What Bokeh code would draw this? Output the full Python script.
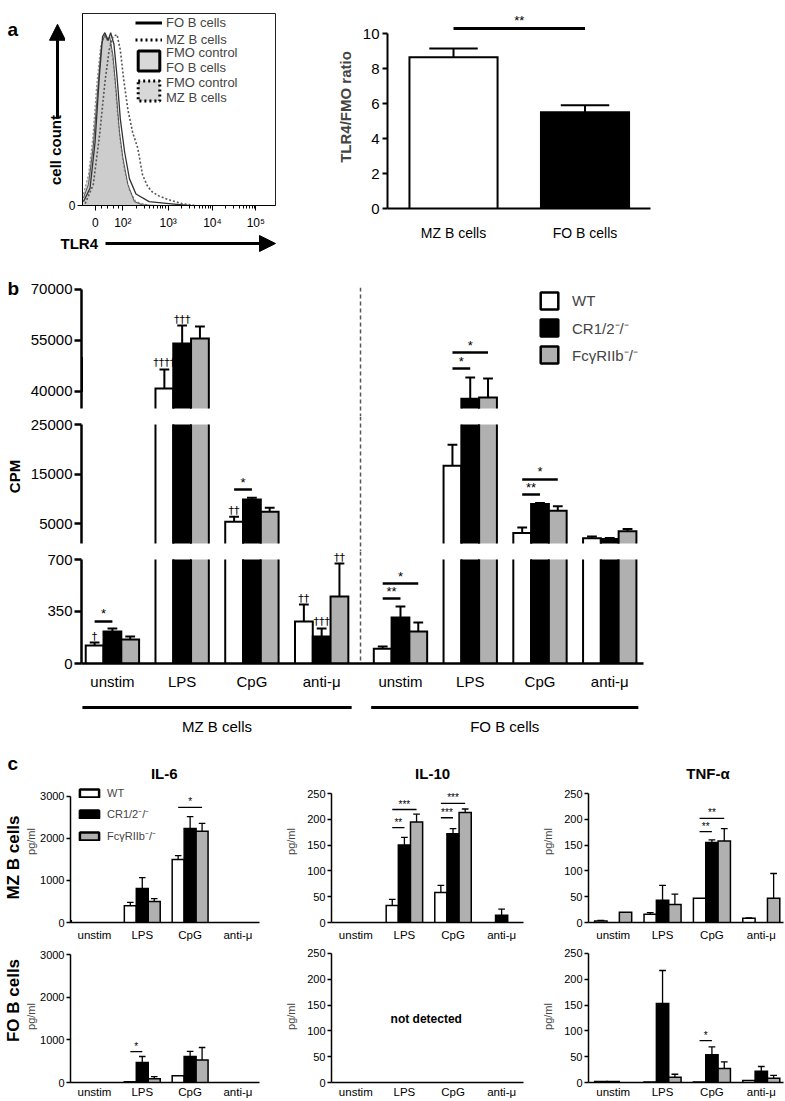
import numpy as np
from bokeh.plotting import figure
from bokeh.layouts import column, row
from bokeh.models import (Range1d, FixedTicker, Legend, LegendItem, Span,
                          Arrow, NormalHead)
from bokeh.embed import file_html
from bokeh.resources import INLINE
from bokeh.core.properties import value

FONT = "Liberation Sans"

# ======================= DATA =======================
# --- panel a, histogram (x: display channel 0-1000 across the plot, y: % of max)
hist_tick_pos = [66, 209, 444, 673, 898]
hist_tick_lab = ["0", "10²", "10³", "10⁴", "10⁵"]
fmo_fo_x = [5, 31, 56, 82, 99, 116, 128, 141, 158, 175, 192, 209, 235, 269, 311, 396]
fmo_fo_y = [4, 11, 31, 64, 84, 89, 86, 88, 78, 59, 38, 25, 11, 2, 0.3, 0]
fmo_mz_x = [5, 31, 53, 73, 94, 111, 128, 145, 162, 179, 196, 218, 243, 277, 345]
fmo_mz_y = [6, 16, 35, 62, 83, 88, 87, 84, 72, 50, 33, 18, 8, 2, 0]
fo_x = [5, 39, 65, 87, 104, 116, 133, 146, 163, 179, 196, 218, 243, 277, 345, 447, 549]
fo_y = [2, 9, 33, 67, 88, 90, 86, 90, 84, 67, 45, 28, 14, 6, 2, 1, 0]
mz_x = [14, 56, 90, 116, 138, 158, 179, 196, 213, 235, 260, 286, 311, 337, 362, 396, 447, 515, 583]
mz_y = [1, 11, 38, 64, 81, 88, 89, 81, 66, 50, 38, 30, 16, 10, 7, 5, 3, 1, 0]

# --- panel a, TLR4/FMO ratio
ratio_cells = ["MZ B cells", "FO B cells"]
ratio_x = [1, 2]
ratio_mean = [8.65, 5.5]
ratio_err = [0.5, 0.4]
ratio_colors = ["white", "black"]
ratio_sig_y = 10.29
ratio_sig_text = "**"

# --- panel b, proliferation (CPM)
b_stims = ["unstim", "LPS", "CpG", "anti-μ", "unstim", "LPS", "CpG", "anti-μ"]
b_group_x = [0, 1, 2, 3, 4.13, 5.13, 6.13, 7.13]
b_series = ["WT", "CR1/2⁻/⁻", "FcγRIIb⁻/⁻"]
b_colors = ["white", "black", "#b0b0b0"]
b_wt = [121, 40900, 5400, 283, 100, 16700, 3120, 2035]
b_wt_err = [20, 5600, 1000, 114, 15, 4230, 1130, 400]
b_cr = [215, 54100, 9850, 182, 310, 37900, 8970, 1900]
b_cr_err = [21, 5300, 400, 54, 73, 6200, 200, 200]
b_fc = [161, 55600, 7400, 451, 215, 38200, 7620, 3450]
b_fc_err = [21, 3500, 800, 222, 61, 5600, 870, 480]
b_dag_group = [0, 1, 1, 2, 3, 3, 3]
b_dag_series = [0, 0, 1, 0, 0, 1, 2]
b_dag_text = ["†", "††††", "†††", "††", "††", "†††", "††"]
b_sig_group = [0, 2, 4, 4, 5, 5, 6, 6]
b_sig_to = [1, 1, 1, 2, 1, 2, 1, 2]
b_sig_y = [283, 11890, 437, 538, 46760, 51470, 10880, 13910]
b_sig_text = ["*", "*", "**", "*", "*", "*", "**", "*"]
b_cells = ["MZ B cells", "FO B cells"]
b_cell_x0 = [-0.43, 3.71]
b_cell_x1 = [3.43, 7.54]
b_divider_x = 3.557

# --- panel c, cytokines (pg/ml)
c_stims = ["unstim", "LPS", "CpG", "anti-μ"]
c_titles = ["IL-6", "IL-10", "TNF-α"]
il6_mz = {"wt": [0, 400, 1500, 0], "wt_err": [0, 80, 90, 0],
          "cr": [0, 810, 2240, 0], "cr_err": [0, 260, 280, 0],
          "fc": [0, 500, 2170, 0], "fc_err": [0, 70, 190, 0]}
il6_fo = {"wt": [0, 20, 160, 0], "wt_err": [0, 0, 0, 0],
          "cr": [0, 470, 610, 0], "cr_err": [0, 140, 120, 0],
          "fc": [0, 90, 530, 0], "fc_err": [0, 50, 290, 0]}
il10_mz = {"wt": [0, 33, 58, 0], "wt_err": [0, 12, 14, 0],
           "cr": [0, 150, 172, 14], "cr_err": [0, 15, 10, 12],
           "fc": [0, 195, 213, 0], "fc_err": [0, 15, 7, 0]}
il10_fo = {"wt": [0, 0, 0, 0], "wt_err": [0, 0, 0, 0],
           "cr": [0, 0, 0, 0], "cr_err": [0, 0, 0, 0],
           "fc": [0, 0, 0, 0], "fc_err": [0, 0, 0, 0]}
tnf_mz = {"wt": [3, 16, 47, 8], "wt_err": [1, 3, 0, 1],
          "cr": [0, 43, 155, 0], "cr_err": [0, 29, 5, 0],
          "fc": [20, 35, 158, 47], "fc_err": [0, 20, 24, 48]}
tnf_fo = {"wt": [2, 1, 1, 4], "wt_err": [0, 0, 0, 0],
          "cr": [2, 153, 54, 22], "cr_err": [0, 64, 15, 9],
          "fc": [0, 10, 27, 8], "fc_err": [0, 6, 13, 6]}
# significance: (group, to-series, y, text); always from WT
il6_mz_sig = ([2], [2], [2740], ["*"])
il6_fo_sig = ([1], [1], [725], ["*"])
il10_mz_sig = ([1, 1, 2, 2], [1, 2, 1, 2], [184, 219, 203, 231], ["**", "***", "***", "***"])
il10_fo_sig = ([], [], [], [])
tnf_mz_sig = ([2, 2], [1, 2], [176, 202], ["**", "**"])
tnf_fo_sig = ([2], [1], [81], ["*"])


# ======================= HELPERS =======================
def base_fig(w, h, l, r, t, b, xr, yr, xaxis=True, yaxis=True):
    p = figure(width=w, height=h, x_range=xr, y_range=yr, output_backend="svg",
               toolbar_location=None, min_border_left=l, min_border_right=r,
               min_border_top=t, min_border_bottom=b,
               x_axis_location="below" if xaxis else None,
               y_axis_location="left" if yaxis else None)
    p.xgrid.visible = False
    p.ygrid.visible = False
    p.outline_line_color = None
    return p


def decor_fig(x0, x1, y0, y1):
    # a plain canvas without axes; ranges follow the page position of the strip
    return base_fig(x1 - x0, y1 - y0, 0, 0, 0, 0, Range1d(x0, x1), Range1d(y1, y0),
                    xaxis=False, yaxis=False)


def style_axis(ax, size, lw=1.5, tick_out=5, standoff=3):
    ax.axis_line_width = lw
    ax.axis_line_color = "black"
    ax.major_tick_line_width = lw
    ax.major_tick_line_color = "black"
    ax.major_tick_out = tick_out
    ax.major_tick_in = 0
    ax.minor_tick_line_color = None
    ax.major_label_text_font = FONT
    ax.major_label_text_font_size = size
    ax.major_label_text_color = "black"
    ax.major_label_standoff = standoff


def txt(p, x, y, text, size, bold=False, angle=0.0, align="left", baseline="middle", font=FONT):
    p.text(x=[x], y=[y], text=[text], text_font=value(font), text_font_size=size,
           text_font_style="bold" if bold else "normal", angle=angle,
           text_align=align, text_baseline=baseline, text_color="black")


def draw_bars(p, xs, vals, errs, color, width, lo=0.0, hi=1e12, lw=2.0, elw=None, cap=0.55):
    elw = elw or lw
    xs = np.asarray(xs, float)
    v = np.asarray(vals, float)
    e = np.asarray(errs, float)
    m = v > lo
    if m.any():
        p.vbar(x=xs[m], bottom=lo, top=np.minimum(v[m], hi), width=width,
               fill_color=color, line_color=None)
        h = width / 2
        pxs, pys = [], []
        for x, t in zip(xs[m], v[m]):
            if t <= hi:
                pxs.append([x - h, x - h, x + h, x + h])
                pys.append([lo, t, t, lo])
            else:
                pxs += [[x - h, x - h], [x + h, x + h]]
                pys += [[lo, hi], [lo, hi]]
        p.multi_line(pxs, pys, line_color="black", line_width=lw, line_join="miter")
    em = (v > lo) & (v <= hi) & (e > 0)
    if em.any():
        x = xs[em]
        y0 = v[em]
        y1 = v[em] + e[em]
        p.segment(x, y0, x, y1, line_color="black", line_width=elw)
        c = width * cap / 2
        p.segment(x - c, y1, x + c, y1, line_color="black", line_width=elw)


def draw_sig(p, x0, x1, ys, texts, lw, size, lo=-1e12, hi=1e12):
    x0 = np.asarray(x0, float)
    x1 = np.asarray(x1, float)
    ys = np.asarray(ys, float)
    if len(ys) == 0:
        return
    m = (ys >= lo) & (ys <= hi)
    if not m.any():
        return
    p.segment(x0[m], ys[m], x1[m], ys[m], line_color="black", line_width=lw)
    p.text(x=list((x0[m] + x1[m]) / 2), y=list(ys[m]),
           text=[t for t, k in zip(texts, m) if k],
           text_align="center", text_baseline="bottom",
           text_font=value(FONT), text_font_size=size, text_color="black")


def legend(p, items, loc, gw, gh, lh, spacing, size, standoff, line_height=1.2):
    lg = Legend(items=items, location=loc, glyph_width=gw, glyph_height=gh, label_height=lh,
                spacing=spacing, padding=0, margin=0, label_standoff=standoff,
                label_text_font=FONT, label_text_font_size=size,
                label_text_line_height=line_height,
                border_line_color=None, background_fill_alpha=0)
    p.add_layout(lg)


# ======================= PANEL a =======================
# left strip: panel letter, y axis label with arrow
pAL = decor_fig(0, 65, 0, 232)
txt(pAL, 7, 7, "a", "19px", bold=True, baseline="top")
txt(pAL, 55, 165, "cell count", "15px", bold=True, angle=np.pi / 2, align="center")
pAL.add_layout(Arrow(end=NormalHead(size=16, fill_color="black", line_color="black"),
                     x_start=57, y_start=127, x_end=57, y_end=13, line_width=3))

# histogram
pA1 = base_fig(235, 232, 14, 25, 13, 24, Range1d(0, 1000), Range1d(0, 100))
pA1.outline_line_color = "#222222"
pA1.outline_line_width = 1
pA1.varea(x=fmo_mz_x, y1=0, y2=fmo_mz_y, fill_color="#d8d8d8")
pA1.varea(x=fmo_fo_x, y1=0, y2=fmo_fo_y, fill_color="#cdcdcd")
pA1.line(fmo_mz_x, fmo_mz_y, line_color="#909090", line_width=1.2, line_dash="2 2")
pA1.line(fmo_fo_x, fmo_fo_y, line_color="#555555", line_width=1.0)
pA1.line(fo_x, fo_y, line_color="#333333", line_width=1.3)
pA1.line(mz_x, mz_y, line_color="#555555", line_width=1.6, line_dash="2 2")
# legend swatches (kept outside the visible range)
r_fo = pA1.line(x=[-500, -400], y=[50, 50], line_color="black", line_width=3)
r_mz = pA1.line(x=[-500, -400], y=[50, 50], line_color="black", line_width=3, line_dash="2 3")
r_fmo_fo = pA1.quad(left=[-500], right=[-400], top=[50], bottom=[40], fill_color="#d8d8d8",
                    line_color="black", line_width=3)
r_fmo_mz = pA1.quad(left=[-500], right=[-400], top=[50], bottom=[40], fill_color="#d8d8d8",
                    line_color="black", line_width=3, line_dash="2 3")
legend(pA1, [LegendItem(label="FO B cells", renderers=[r_fo]),
             LegendItem(label="MZ B cells", renderers=[r_mz])],
       (53, 158), 27, 15, 15, 2, "13px", 4)
legend(pA1, [LegendItem(label="FMO control\nFO B cells", renderers=[r_fmo_fo]),
             LegendItem(label="FMO control\nMZ B cells", renderers=[r_fmo_mz])],
       (53, 100), 27, 25, 25, 0, "13px", 4, line_height=1.0)

xa = pA1.xaxis[0]
style_axis(xa, "12px", lw=1, tick_out=5, standoff=5)
minor = []
for d in hist_tick_pos[1:4]:
    minor += [d + np.log10(k) * 230 for k in range(2, 10)]
minor += [100, 130, 160, 185]
xa.ticker = FixedTicker(ticks=hist_tick_pos, minor_ticks=minor)
xa.major_label_overrides = dict(zip(hist_tick_pos, hist_tick_lab))
xa.minor_tick_line_color = "black"
xa.minor_tick_out = 3
xa.minor_tick_in = 0
ya = pA1.yaxis[0]
style_axis(ya, "12px", lw=1, tick_out=5, standoff=2)
ya.ticker = FixedTicker(ticks=[0])
ya.major_label_overrides = {0: "0"}

# bottom strip: x axis label with arrow
pAB = decor_fig(0, 300, 232, 270)
txt(pAB, 60, 243, "TLR4", "15px", bold=True)
pAB.add_layout(Arrow(end=NormalHead(size=16, fill_color="black", line_color="black"),
                     x_start=105, y_start=243, x_end=275, y_end=243, line_width=3))

# ratio bar chart
pA2 = base_fig(485, 270, 87, 135, 5, 62, Range1d(0.498, 2.498), Range1d(0, 11.6))
for i in range(len(ratio_x)):
    draw_bars(pA2, [ratio_x[i]], [ratio_mean[i]], [ratio_err[i]], ratio_colors[i], 0.67, lw=2)
draw_sig(pA2, [ratio_x[0]], [ratio_x[1]], [ratio_sig_y], [ratio_sig_text], 3, "13px")
ya = pA2.yaxis[0]
style_axis(ya, "15px", lw=2, tick_out=5, standoff=3)
ya.ticker = FixedTicker(ticks=[0, 2, 4, 6, 8, 10])
ya.bounds = (0, 10)
ya.axis_label = "TLR4/FMO ratio"
ya.axis_label_text_font = FONT
ya.axis_label_text_font_size = "15px"
ya.axis_label_text_font_style = "bold"
ya.axis_label_standoff = 6
xa = pA2.xaxis[0]
style_axis(xa, "14px", lw=2, tick_out=0, standoff=16)
xa.ticker = FixedTicker(ticks=ratio_x)
xa.major_label_overrides = dict(zip(ratio_x, ratio_cells))

# ======================= PANEL b =======================
bx_range = Range1d(-0.443, 7.614)
b_off = [-0.255, 0.0, 0.255]
b_w = 0.255
b_vals = [b_wt, b_cr, b_fc]
b_errs = [b_wt_err, b_cr_err, b_fc_err]


def draw_b_segment(p, lo, hi, yticks, bounds):
    p.add_layout(Span(location=b_divider_x, dimension="height", line_color="#555555",
                      line_width=1.5, line_dash="4 3"))
    for s in range(3):
        xs = [g + b_off[s] for g in b_group_x]
        draw_bars(p, xs, b_vals[s], b_errs[s], b_colors[s], b_w, lo=lo, hi=hi, lw=2, elw=2)
    dx, dy, dt = [], [], []
    for g, s, t in zip(b_dag_group, b_dag_series, b_dag_text):
        y = b_vals[s][g] + b_errs[s][g]
        if lo < y <= hi:
            dx.append(b_group_x[g] + b_off[s])
            dy.append(y)
            dt.append(t)
    if dx:
        p.text(x=dx, y=dy, text=dt, text_align="center", text_baseline="bottom",
               text_font=value("DejaVu Sans"), text_font_size="11px", text_color="black")
    x0 = [b_group_x[g] + b_off[0] for g in b_sig_group]
    x1 = [b_group_x[g] + b_off[s] for g, s in zip(b_sig_group, b_sig_to)]
    draw_sig(p, x0, x1, b_sig_y, b_sig_text, 2.5, "13px", lo=lo, hi=hi)
    ya = p.yaxis[0]
    style_axis(ya, "15px", lw=2.5, tick_out=7, standoff=2)
    ya.ticker = FixedTicker(ticks=yticks)
    ya.bounds = bounds


pBL = decor_fig(0, 27, 270, 745)
txt(pBL, 7, 277, "b", "19px", bold=True, baseline="top")
txt(pBL, 14, 476, "CPM", "15px", bold=True, angle=np.pi / 2, align="center")

pBt = base_fig(758, 146, 52, 142, 17, 0, bx_range, Range1d(32647, 70588), xaxis=False)
draw_b_segment(pBt, 35000, 70000, [40000, 55000, 70000], (35000, 70000))
leg_r = [pBt.vbar(x=[-10], top=[50000], bottom=[40000], width=0.1, fill_color=c,
                  line_color="black", line_width=2.5) for c in b_colors]
legend(pBt, [LegendItem(label=s, renderers=[r]) for s, r in zip(b_series, leg_r)],
       (457, 51), 22, 21, 21, 6, "15px", 12)

pBm = base_fig(758, 135, 52, 142, 0, 0, bx_range, Range1d(-613, 26613), xaxis=False)
draw_b_segment(pBm, 1000, 25000, [5000, 15000, 25000], (1000, 25000))

pBb = base_fig(758, 144, 52, 142, 0, 32, bx_range, Range1d(0, 753.8))
draw_b_segment(pBb, 0, 700, [0, 350, 700], (0, 700))
xa = pBb.xaxis[0]
style_axis(xa, "15px", lw=2.5, tick_out=0, standoff=9)
xa.ticker = FixedTicker(ticks=b_group_x)
xa.major_label_overrides = dict(zip(b_group_x, b_stims))

pBg = base_fig(758, 50, 52, 142, 0, 0, bx_range, Range1d(50, 0), xaxis=False, yaxis=False)
pBg.segment(x0=b_cell_x0, y0=[12, 12], x1=b_cell_x1, y1=[12, 12], line_color="black", line_width=3)
pBg.text(x=[(a + b) / 2 for a, b in zip(b_cell_x0, b_cell_x1)], y=[31, 31], text=b_cells,
         text_align="center", text_baseline="middle", text_font=value(FONT),
         text_font_size="15px", text_color="black")

# ======================= PANEL c =======================
c_off = [-0.25, 0.0, 0.25]
c_w = 0.25
# (width, left border, right border, axis-label standoff, title x)
c_cols = [(243, 46, 6, 0, 1.46), (260, 66, 2, 7, 1.58), (260, 63, 2, 7, 1.92)]


def c_panel(col, toprow, data, sig, ymax, yticks, title_y=None):
    w, l, r, als, tx = c_cols[col]
    if toprow:
        h, t, b = 199, 15, 22
    else:
        h, t, b = 156, 6, 18
    p = base_fig(w, h, l, r, t, b, Range1d(-0.5, 3.45), Range1d(0, ymax))
    keys = [("wt", "wt_err"), ("cr", "cr_err"), ("fc", "fc_err")]
    for s, (k, ke) in enumerate(keys):
        xs = [i + c_off[s] for i in range(len(c_stims))]
        draw_bars(p, xs, data[k], data[ke], b_colors[s], c_w, lw=1.5, elw=1.3)
    g, to, ys, tx_ = sig
    draw_sig(p, [gg + c_off[0] for gg in g], [gg + c_off[s] for gg, s in zip(g, to)],
             ys, tx_, 1.3, "10px")
    if title_y is not None:
        txt(p, tx, title_y, c_titles[col], "15px", bold=True, align="center")
    ya = p.yaxis[0]
    style_axis(ya, "11px", lw=1.5, tick_out=4, standoff=2)
    ya.ticker = FixedTicker(ticks=yticks)
    ya.bounds = (0, yticks[-1])
    ya.axis_label = "pg/ml"
    ya.axis_label_text_font = FONT
    ya.axis_label_text_font_size = "11px"
    ya.axis_label_text_font_style = "normal"
    ya.axis_label_standoff = als
    xa = p.xaxis[0]
    style_axis(xa, "11.5px", lw=1.5, tick_out=0, standoff=6 if toprow else 3)
    xa.ticker = FixedTicker(ticks=list(range(len(c_stims))))
    xa.major_label_overrides = dict(zip(range(len(c_stims)), c_stims))
    return p


il6_ticks = [0, 1000, 2000, 3000]
ck_ticks = [0, 50, 100, 150, 200, 250]
pC11 = c_panel(0, True, il6_mz, il6_mz_sig, 3857, il6_ticks, title_y=3548)
pC12 = c_panel(1, True, il10_mz, il10_mz_sig, 314, ck_ticks, title_y=289)
pC13 = c_panel(2, True, tnf_mz, tnf_mz_sig, 314, ck_ticks, title_y=289)
pC21 = c_panel(0, False, il6_fo, il6_fo_sig, 3094, il6_ticks)
pC22 = c_panel(1, False, il10_fo, il10_fo_sig, 255.8, ck_ticks)
pC23 = c_panel(2, False, tnf_fo, tnf_fo_sig, 255.8, ck_ticks)
txt(pC22, 1.45, 124, "not detected", "12px", bold=True, align="center")

cleg_r = [pC11.vbar(x=[-10], top=[50], width=0.1, fill_color=c, line_color="black",
                    line_width=2.5) for c in b_colors]
legend(pC11, [LegendItem(label=s, renderers=[r]) for s, r in zip(b_series, cleg_r)],
       (7, 79), 24, 10, 13, 7, "11px", 6)

pCL = decor_fig(0, 22, 745, 1100)
txt(pCL, 7, 763, "c", "19px", bold=True)
txt(pCL, 13, 857, "MZ B cells", "17px", bold=True, angle=np.pi / 2, align="center")
txt(pCL, 13, 1000, "FO B cells", "17px", bold=True, angle=np.pi / 2, align="center")

layout = column(
    row(column(row(pAL, pA1), pAB), pA2),
    row(pBL, column(pBt, pBm, pBb, pBg)),
    row(pCL, column(row(pC11, pC12, pC13), row(pC21, pC22, pC23))),
)

with open("out.html", "w") as f:
    f.write(file_html(layout, INLINE))
